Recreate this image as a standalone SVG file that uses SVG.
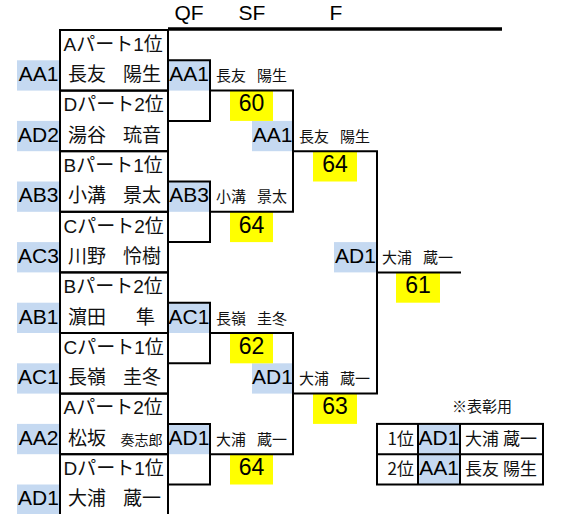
<svg xmlns="http://www.w3.org/2000/svg" width="562" height="514" viewBox="0 0 562 514">
<style>
.ln{fill:none;stroke:#000;stroke-width:2}
.hd{fill:none;stroke:#000;stroke-width:3.4}
.cb{fill:#C5D9F1}
.yb{fill:#FFFF00}
.tc{font-family:"Liberation Sans",Arial,sans-serif;font-size:21px;text-anchor:middle;fill:#000}
.ts{font-family:"Liberation Sans",Arial,sans-serif;font-size:23px;text-anchor:middle;fill:#000}
.th{font-family:"Liberation Sans",Arial,sans-serif;font-size:21px;text-anchor:middle;fill:#000}
.tj{font-family:"Liberation Sans","Noto Sans CJK JP",sans-serif;font-size:19px;fill:#111}
.tn{font-family:"Noto Sans CJK JP",sans-serif;font-size:15px;fill:#111}
.tm{font-family:"Noto Sans CJK JP",sans-serif;font-size:14px;fill:#111}
.tt{font-family:"Noto Sans CJK JP",sans-serif;font-size:17px;fill:#111}
</style>
<rect width="562" height="514" fill="#fff"/>

<g id="header">
<text class="th" x="189" y="20">QF</text>
<text class="th" x="252" y="20">SF</text>
<text class="th" x="336" y="20">F</text>
</g>

<!-- fills first -->
<g id="fills">
<rect class="cb" x="17" y="60.3" width="43" height="30.3"/>
<rect class="cb" x="17" y="120.9" width="43" height="30.3"/>
<rect class="cb" x="17" y="181.5" width="43" height="30.3"/>
<rect class="cb" x="17" y="242.1" width="43" height="30.3"/>
<rect class="cb" x="17" y="302.7" width="43" height="30.3"/>
<rect class="cb" x="17" y="363.3" width="43" height="30.3"/>
<rect class="cb" x="17" y="423.9" width="43" height="30.3"/>
<rect class="cb" x="17" y="484.5" width="43" height="30.3"/>
<rect class="cb" x="168" y="60.3" width="42" height="30.3"/>
<rect class="cb" x="168" y="181.5" width="42" height="30.3"/>
<rect class="cb" x="168" y="302.7" width="42" height="30.3"/>
<rect class="cb" x="168" y="423.9" width="42" height="30.3"/>
<rect class="cb" x="252" y="120.9" width="41" height="30.3"/>
<rect class="cb" x="252" y="363.3" width="41" height="30.3"/>
<rect class="cb" x="334" y="242.1" width="43" height="30.3"/>
<rect class="yb" x="230" y="90.6" width="43" height="30.3"/>
<rect class="yb" x="313" y="151.2" width="44" height="30.3"/>
<rect class="yb" x="230" y="211.8" width="43" height="30.3"/>
<rect class="yb" x="396" y="272.4" width="44" height="30.3"/>
<rect class="yb" x="230" y="333" width="43" height="30.3"/>
<rect class="yb" x="313" y="393.6" width="44" height="30.3"/>
<rect class="yb" x="230" y="454.2" width="43" height="30.3"/>
<rect class="cb" x="418" y="423.9" width="42" height="60.6"/>
</g>

<g id="connectors">
<path class="hd" d="M168,29 H502"/>
<path class="ln" d="M168,60.3 H210 V120.9 H168"/>
<path class="ln" d="M168,181.5 H210 V242.1 H168"/>
<path class="ln" d="M168,302.7 H210 V363.3 H168"/>
<path class="ln" d="M168,423.9 H210 V484.5 H168"/>
<path class="ln" d="M210,90.6 H293 V211.8 H210"/>
<path class="ln" d="M210,333 H293 V454.2 H210"/>
<path class="ln" d="M293,151.2 H377 V393.6 H293"/>
<path class="ln" d="M377,272.4 H461"/>
</g>

<g id="p1"><rect class="ln" x="60" y="30" width="108" height="60.6"/>
<text class="tj" x="63.5" y="50.8">Aパート1位</text>
<text class="tj" y="81.1"><tspan x="68">長友</tspan><tspan x="123">陽生</tspan></text>
<text class="tc" x="38.5" y="81.1">AA1</text></g>
<g id="p2"><rect class="ln" x="60" y="90.6" width="108" height="60.6"/>
<text class="tj" x="63.5" y="111.4">Dパート2位</text>
<text class="tj" y="141.7"><tspan x="68">湯谷</tspan><tspan x="123">琉音</tspan></text>
<text class="tc" x="38.5" y="141.7">AD2</text></g>
<g id="p3"><rect class="ln" x="60" y="151.2" width="108" height="60.6"/>
<text class="tj" x="63.5" y="172">Bパート1位</text>
<text class="tj" y="202.3"><tspan x="68">小溝</tspan><tspan x="123">景太</tspan></text>
<text class="tc" x="38.5" y="202.3">AB3</text></g>
<g id="p4"><rect class="ln" x="60" y="211.8" width="108" height="60.6"/>
<text class="tj" x="63.5" y="232.6">Cパート2位</text>
<text class="tj" y="262.9"><tspan x="68">川野</tspan><tspan x="123">怜樹</tspan></text>
<text class="tc" x="38.5" y="262.9">AC3</text></g>
<g id="p5"><rect class="ln" x="60" y="272.4" width="108" height="60.6"/>
<text class="tj" x="63.5" y="293.2">Bパート2位</text>
<text class="tj" y="323.5"><tspan x="68">濵田</tspan><tspan x="136">隼</tspan></text>
<text class="tc" x="38.5" y="323.5">AB1</text></g>
<g id="p6"><rect class="ln" x="60" y="333" width="108" height="60.6"/>
<text class="tj" x="63.5" y="353.8">Cパート1位</text>
<text class="tj" y="384.1"><tspan x="68">長嶺</tspan><tspan x="123">圭冬</tspan></text>
<text class="tc" x="38.5" y="384.1">AC1</text></g>
<g id="p7"><rect class="ln" x="60" y="393.6" width="108" height="60.6"/>
<text class="tj" x="63.5" y="414.4">Aパート2位</text>
<text class="tj" y="444.7"><tspan x="68">松坂</tspan></text>
<text class="tm" x="120.5" y="444.7">奏志郎</text>
<text class="tc" x="38.5" y="444.7">AA2</text></g>
<g id="p8"><rect class="ln" x="60" y="454.2" width="108" height="62"/>
<text class="tj" x="63.5" y="475">Dパート1位</text>
<text class="tj" y="505.3"><tspan x="68">大浦</tspan><tspan x="123">蔵一</tspan></text>
<text class="tc" x="38.5" y="505.3">AD1</text></g>

<g id="qf1"><text class="tc" x="189" y="81.1">AA1</text>
<text class="tn" y="81.1"><tspan x="216">長友</tspan><tspan x="257">陽生</tspan></text>
<text class="ts" x="251.5" y="111.4">60</text></g>
<g id="qf2"><text class="tc" x="189" y="202.3">AB3</text>
<text class="tn" y="202.3"><tspan x="216">小溝</tspan><tspan x="257">景太</tspan></text>
<text class="ts" x="251.5" y="232.6">64</text></g>
<g id="qf3"><text class="tc" x="189" y="323.5">AC1</text>
<text class="tn" y="323.5"><tspan x="216">長嶺</tspan><tspan x="257">圭冬</tspan></text>
<text class="ts" x="251.5" y="353.8">62</text></g>
<g id="qf4"><text class="tc" x="189" y="444.7">AD1</text>
<text class="tn" y="444.7"><tspan x="216">大浦</tspan><tspan x="257">蔵一</tspan></text>
<text class="ts" x="251.5" y="475">64</text></g>

<g id="sf1"><text class="tc" x="272.5" y="141.7">AA1</text>
<text class="tn" y="141.7"><tspan x="299">長友</tspan><tspan x="340">陽生</tspan></text>
<text class="ts" x="335" y="172">64</text></g>
<g id="sf2"><text class="tc" x="272.5" y="384.1">AD1</text>
<text class="tn" y="384.1"><tspan x="299">大浦</tspan><tspan x="340">蔵一</tspan></text>
<text class="ts" x="335" y="414.4">63</text></g>

<g id="final"><text class="tc" x="355.5" y="262.9">AD1</text>
<text class="tn" y="262.9"><tspan x="382">大浦</tspan><tspan x="423">蔵一</tspan></text>
<text class="ts" x="418" y="293.2">61</text></g>

<g id="award">
<text class="tn" x="452" y="412">※表彰用</text>
<rect class="ln" x="377" y="423.9" width="166" height="60.6"/>
<path class="ln" d="M377,454.2 H543 M418,423.9 V484.5 M460,423.9 V484.5"/>
<text class="tt" x="414" y="444.7" text-anchor="end">1位</text>
<text class="tt" x="414" y="475" text-anchor="end">2位</text>
<text class="tc" x="439" y="444.7">AD1</text>
<text class="tc" x="439" y="475">AA1</text>
<text class="tt" y="444.7"><tspan x="465">大浦</tspan><tspan x="503">蔵一</tspan></text>
<text class="tt" y="475"><tspan x="465">長友</tspan><tspan x="503">陽生</tspan></text>
</g>
</svg>
